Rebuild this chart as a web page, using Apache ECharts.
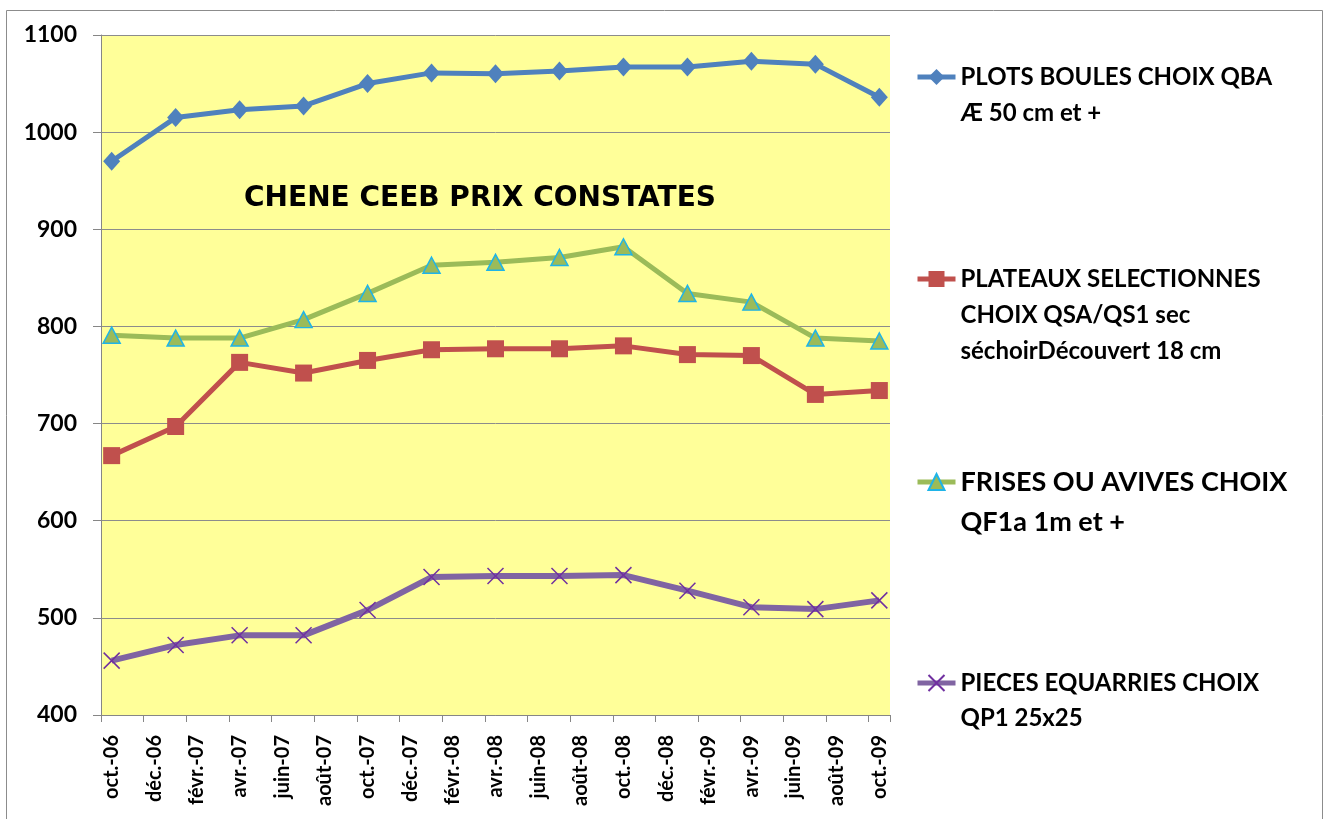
<!DOCTYPE html>
<html>
<head>
<meta charset="utf-8">
<script src="https://cdn.jsdelivr.net/npm/echarts@6/dist/echarts.min.js"></script>
<style>
html,body{margin:0;padding:0;background:#fff;}
#chart{width:1325px;height:819px;}
</style>
</head>
<body>
<div id="chart"></div>
<script>
// Monthly categories (axis slots)
const months = ['oct.-06','nov.-06','déc.-06','janv.-07','févr.-07','mars-07','avr.-07','mai-07','juin-07','juil.-07','août-07','sept.-07',
  'oct.-07','nov.-07','déc.-07','janv.-08','févr.-08','mars-08','avr.-08','mai-08','juin-08','juil.-08','août-08','sept.-08',
  'oct.-08','nov.-08','déc.-08','janv.-09','févr.-09','mars-09','avr.-09','mai-09','juin-09','juil.-09','août-09','sept.-09','oct.-09'];
// Dates of observations (quarterly)
const obsDates = ['oct.-06','janv.-07','avr.-07','juil.-07','oct.-07','janv.-08','avr.-08','juil.-08','oct.-08','janv.-09','avr.-09','juil.-09','oct.-09'];

const plots     = [970, 1015, 1023, 1027, 1050, 1061, 1060, 1063, 1067, 1067, 1073, 1070, 1036];
const plateaux  = [667, 697, 763, 752, 765, 776, 777, 777, 780, 771, 770, 730, 734];
const frises    = [791, 788, 788, 807, 834, 863, 866, 871, 882, 834, 825, 788, 785];
const pieces    = [456, 472, 482, 482, 508, 542, 543, 543, 544, 528, 511, 509, 518];

const names = [
  'PLOTS BOULES CHOIX QBA\nÆ 50 cm et +',
  'PLATEAUX SELECTIONNES\nCHOIX QSA/QS1 sec\nséchoirDécouvert 18 cm',
  'FRISES OU AVIVES CHOIX\nQF1a 1m et +',
  'PIECES EQUARRIES CHOIX\nQP1 25x25'
];
const chartTitle = 'CHENE CEEB PRIX CONSTATES';

function pairs(vals){ return obsDates.map((d,i)=>[d, vals[i]]); }

const FONT = 'Lato';
const chart = echarts.init(document.getElementById('chart'), null, {renderer:'canvas'});

// Each legend entry: icon aligned with the first text line (blank lines prepended)
function mkLegend(name, iconY, fontSize, lineHeight){
  const n = name.split('\n').length;
  return {
    data:[name], orient:'vertical', left:915, top: iconY - (2*n-1)*lineHeight/2, padding:0,
    itemWidth:38, itemHeight:20, itemGap:0,
    formatter: function(nm){ return '\n'.repeat(n-1) + nm; },
    lineStyle:{width:5},
    textStyle:{fontFamily:FONT, fontWeight:'bold', fontSize:fontSize, lineHeight:lineHeight, color:'#000'}
  };
}

const option = {
  animation:false,
  backgroundColor:'#ffffff',
  grid:{left:101, top:35, right:435, bottom:104, show:true, backgroundColor:'#FFFF99', borderWidth:0},
  xAxis:{
    type:'category', data:months, boundaryGap:true,
    axisLine:{lineStyle:{color:'#868686', width:1}},
    axisTick:{show:true, interval:1, length:7, lineStyle:{color:'#868686'}},
    axisLabel:{interval:1, rotate:90, margin:20, fontFamily:FONT, fontWeight:'bold', fontSize:20, color:'#000'},
    splitLine:{show:false}
  },
  yAxis:{
    type:'value', min:400, max:1100, interval:100,
    axisLine:{show:true, lineStyle:{color:'#868686'}},
    axisTick:{show:true, length:8, lineStyle:{color:'#868686'}},
    axisLabel:{margin:24, fontFamily:FONT, fontWeight:'bold', fontSize:23, color:'#000',
      formatter:function(v){ return String(v); }},
    splitLine:{lineStyle:{color:'#8C8C8C', width:1}}
  },
  legend:[
    mkLegend(names[0], 77, 24, 36),
    mkLegend(names[1], 279, 24, 36),
    mkLegend(names[2], 482, 27, 40),
    mkLegend(names[3], 683, 24, 35)
  ],
  graphic:[
    {type:'rect', shape:{x:6.5, y:10.5, width:1316, height:830}, style:{fill:'none', stroke:'#8C8C8C', lineWidth:1}, silent:true},
    {type:'text', x:480, y:199, style:{text:chartTitle, textAlign:'center', textVerticalAlign:'middle',
      font:'bold 28px "DejaVu Sans"', fill:'#000'}, z:5}
  ],
  series:[
    {name:names[0], type:'line', data:pairs(plots), symbol:'diamond', symbolSize:[17,19], showAllSymbol:true,
      lineStyle:{color:'#4F81BD', width:5}, itemStyle:{color:'#4F81BD'}},
    {name:names[1], type:'line', data:pairs(plateaux), symbol:'rect', symbolSize:17, showAllSymbol:true,
      lineStyle:{color:'#C0504D', width:5}, itemStyle:{color:'#C0504D'}},
    {name:names[2], type:'line', data:pairs(frises), symbol:'triangle', symbolSize:[17,16], showAllSymbol:true,
      lineStyle:{color:'#9BBB59', width:5}, itemStyle:{color:'#9BBB59', borderColor:'#1FB4E8', borderWidth:1.5}},
    {name:names[3], type:'line', data:pairs(pieces), symbol:'path://M0,0L10,10M10,0L0,10', symbolSize:16, showAllSymbol:true,
      lineStyle:{color:'#8064A2', width:6}, itemStyle:{color:'#7030A0', borderColor:'#7030A0', borderWidth:1.5}}
  ]
};
chart.setOption(option);
</script>
</body>
</html>
